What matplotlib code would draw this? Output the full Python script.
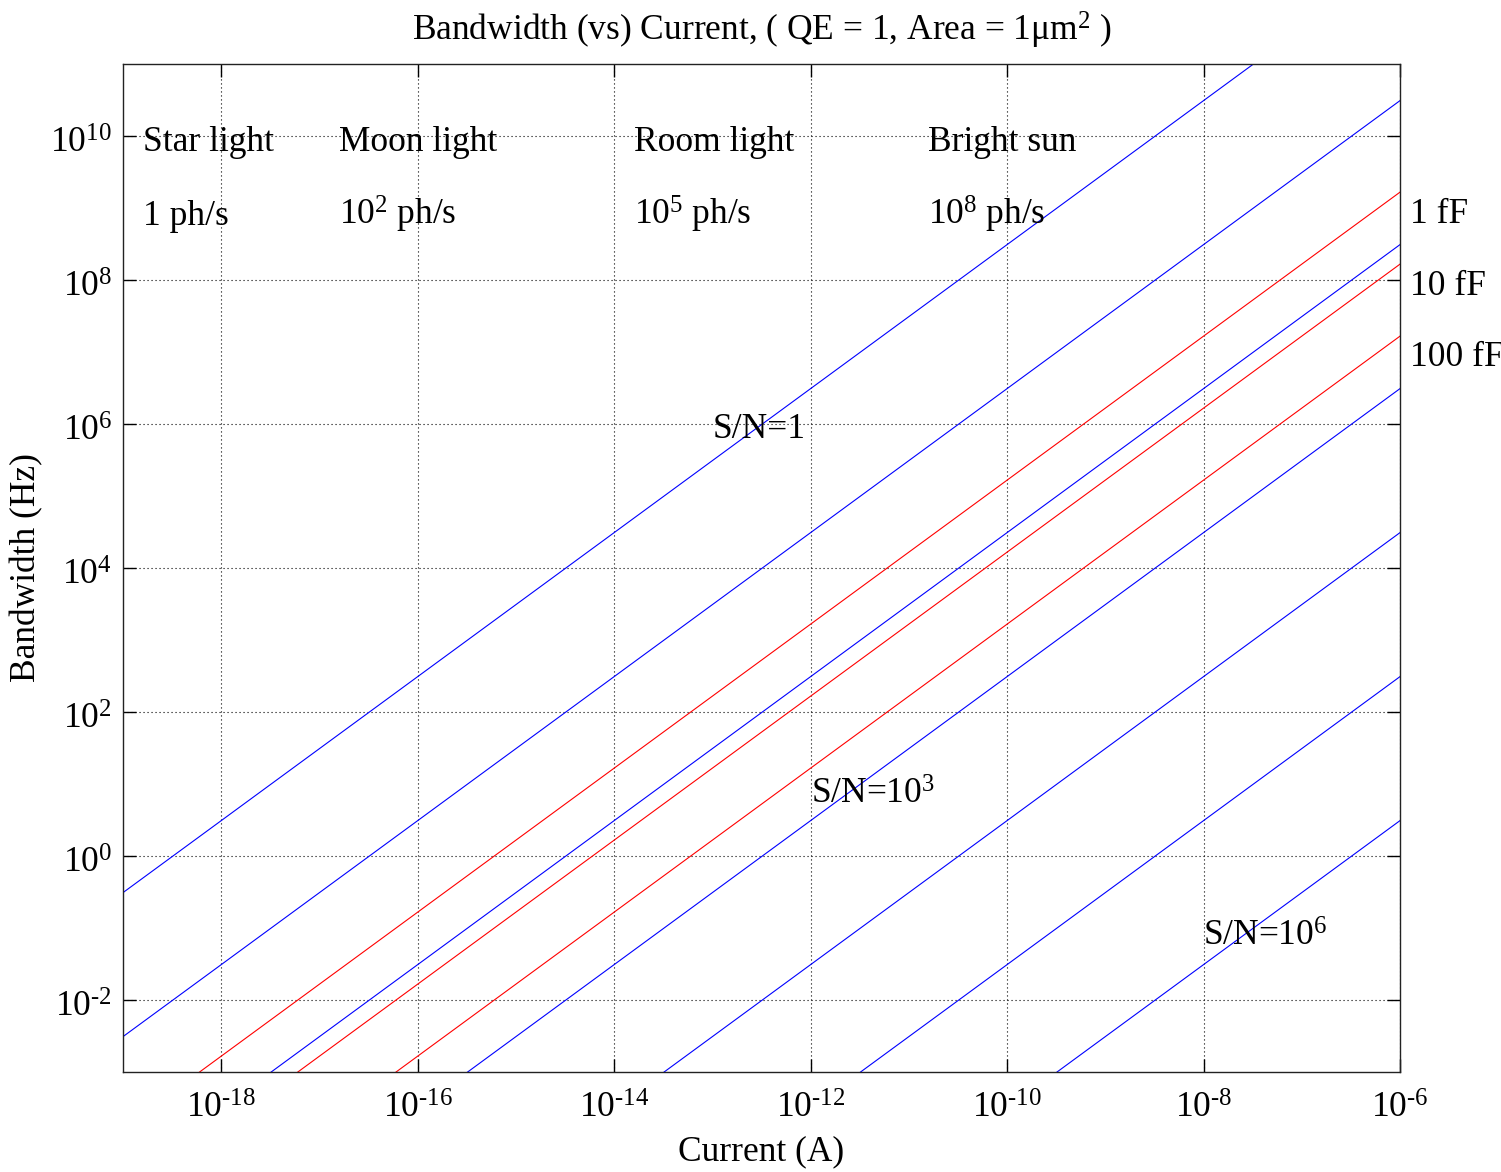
import numpy as np
import matplotlib
matplotlib.use("Agg")
import matplotlib.pyplot as plt
from matplotlib.ticker import FixedLocator, FuncFormatter, NullLocator
from matplotlib.transforms import ScaledTranslation

plt.rcParams['font.family'] = ['Liberation Serif', 'DejaVu Serif']
plt.rcParams['mathtext.fontset'] = 'custom'
plt.rcParams['mathtext.rm'] = 'Liberation Serif'
plt.rcParams['mathtext.it'] = 'Liberation Serif:italic'
plt.rcParams['mathtext.bf'] = 'Liberation Serif:bold'

# ---- data ----
current_A = [1e-19, 1e-6]

snr_labels = ["1", "10", "10^2", "10^3", "10^4", "10^5", "10^6"]
snr_bw_lo = [3.1e-1, 3.1e-3, 3.1e-5, 3.1e-7, 3.1e-9, 3.1e-11, 3.1e-13]
snr_bw_hi = [3.1e12, 3.1e10, 3.1e8, 3.1e6, 3.1e4, 3.1e2, 3.1e0]

cap_labels = ["1 fF", "10 fF", "100 fF"]
cap_bw_lo = [1.66e-4, 1.66e-5, 1.66e-6]
cap_bw_hi = [1.66e9, 1.66e8, 1.66e7]
cap_label_y = [10**8.79, 10**7.79, 10**6.80]

light_names = ["Star light", "Moon light", "Room light", "Bright sun"]
light_flux = ["1 ph/s", "10$^2$ ph/s", "10$^5$ ph/s", "10$^8$ ph/s"]
light_current = [10**-18.8, 10**-16.8, 10**-13.8, 10**-10.8]
light_name_y = 10**9.79
light_flux_y = 10**8.77

snr_annot_text = ["S/N=1", "S/N=10$^3$", "S/N=10$^6$"]
snr_annot_x = [1e-13, 1e-12, 10**-8.01]
snr_annot_y = [10**5.80, 10**0.73, 10**-1.25]

x_tick_exp = [-18, -16, -14, -12, -10, -8, -6]
y_tick_exp = [-2, 0, 2, 4, 6, 8, 10]

# ---- figure ----
fig = plt.figure(figsize=(15.01, 11.72), dpi=100)
ax = fig.add_axes([123/1501, 1 - 1072/1172, (1400-123)/1501, (1072-64)/1172])

for lo, hi in zip(snr_bw_lo, snr_bw_hi):
    ax.loglog(current_A, [lo, hi], color=(0, 0, 1), lw=0.8)
for lo, hi in zip(cap_bw_lo, cap_bw_hi):
    ax.loglog(current_A, [lo, hi], color=(1, 0, 0), lw=0.8)

ax.set_xlim(1e-19, 1e-6)
ax.set_ylim(1e-3, 1e11)


def exp_label(v, p):
    e = int(round(np.log10(v)))
    if e < 0:
        return r"$10^{\text{-%d}}$" % (-e)
    return r"$10^{%d}$" % e


ax.xaxis.set_major_locator(FixedLocator([10.0**e for e in x_tick_exp]))
ax.yaxis.set_major_locator(FixedLocator([10.0**e for e in y_tick_exp]))
ax.xaxis.set_minor_locator(NullLocator())
ax.yaxis.set_minor_locator(NullLocator())
fmt = FuncFormatter(exp_label)
ax.xaxis.set_major_formatter(fmt)
ax.yaxis.set_major_formatter(fmt)

fs = 25.5
ax.tick_params(which='both', direction='in', length=9.5, width=1,
               top=True, right=True, labelsize=fs, colors='black')
ax.tick_params(axis='x', pad=15)
ax.tick_params(axis='y', pad=8)
ax.grid(True, which='major', color='black', linestyle=(0, (1, 2.6)), lw=0.8)
for s in ax.spines.values():
    s.set_linewidth(1.0)
    s.set_color('#222222')

ax.set_xlabel("Current (A)", fontsize=fs, labelpad=7)
ax.set_ylabel("Bandwidth (Hz)", fontsize=fs, labelpad=5)
ax.set_title("Bandwidth (vs) Current, ( QE = 1, Area = 1\u03bcm$^2$ )", fontsize=fs, pad=17)

for name, flux, xc in zip(light_names, light_flux, light_current):
    ax.text(xc, light_name_y, name, fontsize=fs, ha='left', va='baseline')
    ax.text(xc, light_flux_y, flux, fontsize=fs, ha='left', va='baseline')

for lab, yv in zip(cap_labels, cap_label_y):
    ax.text(10**-5.9, yv, lab, fontsize=fs, ha='left', va='baseline', clip_on=False)

for t, xv, yv in zip(snr_annot_text, snr_annot_x, snr_annot_y):
    ax.text(xv, yv, t, fontsize=fs, ha='left', va='baseline')

# nudge y tick labels slightly down to match reference
offset = ScaledTranslation(0, -4 / 100, fig.dpi_scale_trans)
for tick in ax.yaxis.get_major_ticks():
    tick.label1.set_transform(tick.label1.get_transform() + offset)

fig.savefig("out.png", dpi=100)
